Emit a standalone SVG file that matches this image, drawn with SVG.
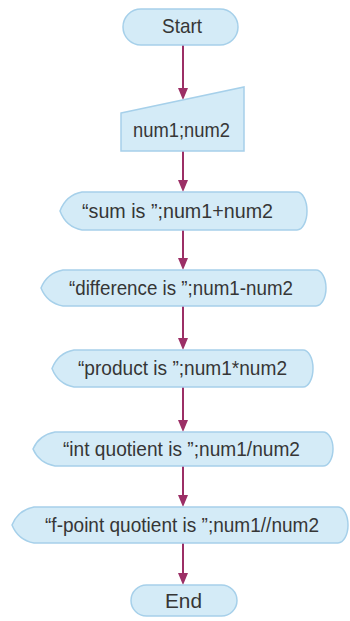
<svg xmlns="http://www.w3.org/2000/svg" width="350" height="621" viewBox="0 0 350 621">
<defs>
<style>
.shape{fill:#d4ebf7;stroke:#a6d0ea;stroke-width:1.5}
.t{font-family:"Liberation Sans",Arial,sans-serif;font-size:21px;fill:#363636}
.c{stroke:#9c2f66;stroke-width:2;fill:none}
.h{fill:#9c2f66}
</style>
</defs>
<rect width="350" height="621" fill="#ffffff"/>
<g id="connectors">
<line class="c" x1="183" y1="45" x2="183" y2="90"/><path class="h" d="M178,88 L188,88 L183,100 Z"/>
<line class="c" x1="183" y1="151" x2="183" y2="182"/><path class="h" d="M178,180 L188,180 L183,192 Z"/>
<line class="c" x1="183" y1="230" x2="183" y2="260"/><path class="h" d="M178,258 L188,258 L183,270 Z"/>
<line class="c" x1="183" y1="306" x2="183" y2="340"/><path class="h" d="M178,338 L188,338 L183,350 Z"/>
<line class="c" x1="183" y1="387" x2="183" y2="422"/><path class="h" d="M178,420 L188,420 L183,432 Z"/>
<line class="c" x1="183" y1="466" x2="183" y2="497"/><path class="h" d="M178,495 L188,495 L183,507 Z"/>
<line class="c" x1="183" y1="543" x2="183" y2="575"/><path class="h" d="M178,573 L188,573 L183,585 Z"/>
</g>
<g id="start">
<rect class="shape" x="123" y="9" width="115" height="36" rx="18"/>
<text class="t" x="162" y="32.5" textLength="40" lengthAdjust="spacingAndGlyphs">Start</text>
</g>
<g id="input">
<path class="shape" d="M121,113 L244,87 L244,151 L121,151 Z"/>
<text class="t" x="133" y="137" textLength="97" lengthAdjust="spacingAndGlyphs">num1;num2</text>
</g>
<g id="sum">
<path class="shape" d="M60,211 Q66,195 82,192 H297 A10,19 0 0 1 297,230 H82 Q66,227 60,211 Z"/>
<text class="t" x="82" y="217.5" textLength="191" lengthAdjust="spacingAndGlyphs">“sum is ”;num1+num2</text>
</g>
<g id="difference">
<path class="shape" d="M41,288 Q47,273 63,270 H316 A10,18 0 0 1 316,306 H63 Q47,303 41,288 Z"/>
<text class="t" x="69" y="294.5" textLength="224" lengthAdjust="spacingAndGlyphs">“difference is ”;num1-num2</text>
</g>
<g id="product">
<path class="shape" d="M52,368.5 Q58,353 74,350 H303 A10,18.5 0 0 1 303,387 H74 Q58,384 52,368.5 Z"/>
<text class="t" x="78" y="374.5" textLength="209" lengthAdjust="spacingAndGlyphs">“product is ”;num1*num2</text>
</g>
<g id="intquotient">
<path class="shape" d="M33,449 Q39,435 55,432 H323 A10,17 0 0 1 323,466 H55 Q39,463 33,449 Z"/>
<text class="t" x="63" y="455.5" textLength="237" lengthAdjust="spacingAndGlyphs">“int quotient is ”;num1/num2</text>
</g>
<g id="fpoint">
<path class="shape" d="M12,525 Q18,510 34,507 H338 A10,18 0 0 1 338,543 H34 Q18,540 12,525 Z"/>
<text class="t" x="45" y="531.5" textLength="274" lengthAdjust="spacingAndGlyphs">“f-point quotient is ”;num1//num2</text>
</g>
<g id="end">
<rect class="shape" x="131" y="585" width="106" height="31" rx="15.5"/>
<text class="t" x="165" y="607.5" textLength="37" lengthAdjust="spacingAndGlyphs">End</text>
</g>
</svg>
